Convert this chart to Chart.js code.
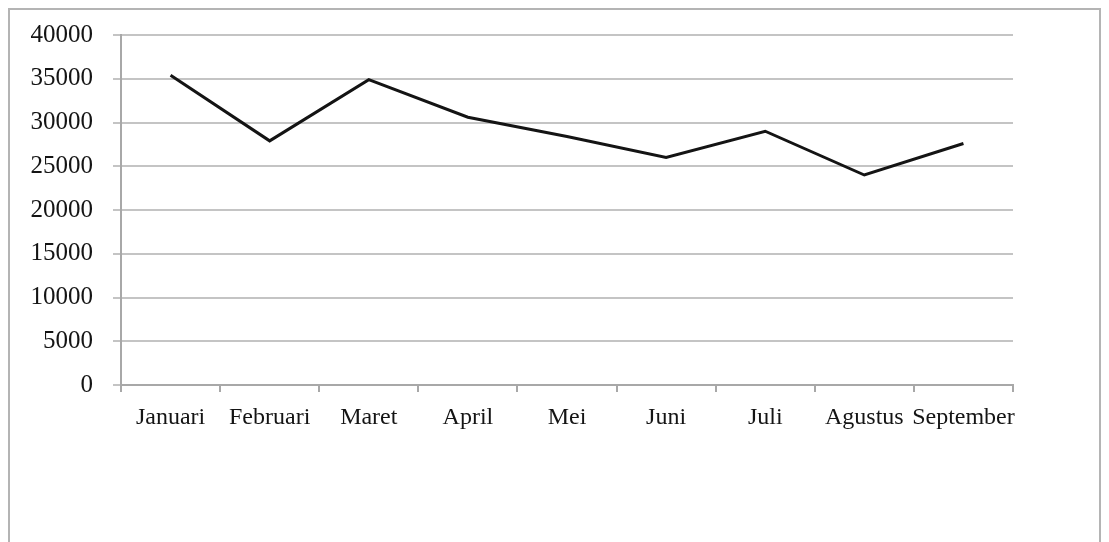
<!DOCTYPE html>
<html lang="id">
<head>
    <meta charset="UTF-8">
    <title>Grafik</title>
    <script src="https://cdn.jsdelivr.net/npm/chart.js"></script>
    <style>
        body {
            margin: 0;
            background: #fff;
            width: 1109px;
            height: 542px;
            overflow: hidden;
        }
        .frame {
            position: absolute;
            left: 8px;
            top: 8px;
            width: 1093px;
            height: 560px;
            border: 2px solid #b4b4b4;
            box-sizing: border-box;
        }
        .chart-box {
            position: absolute;
            left: 0;
            top: 0;
            width: 1109px;
            height: 542px;
        }
    </style>
</head>
<body>
    <div class="frame"></div>
    <div class="chart-box">
        <canvas id="chart"></canvas>
    </div>

    <script>
        // data
        const bulan = ['Januari', 'Februari', 'Maret', 'April', 'Mei', 'Juni', 'Juli', 'Agustus', 'September'];
        const nilai = [35400, 27900, 34900, 30600, 28400, 26000, 29000, 24000, 27600];
        const yMin = 0;
        const yMax = 40000;
        const yStep = 5000;

        const fontSerif = '"Liberation Serif", "Times New Roman", serif';

        const ctx = document.getElementById('chart').getContext('2d');
        new Chart(ctx, {
            type: 'line',
            data: {
                labels: bulan,
                datasets: [{
                    data: nilai,
                    borderColor: '#141414',
                    borderWidth: 3,
                    pointRadius: 0,
                    tension: 0,
                    fill: false
                }]
            },
            options: {
                responsive: true,
                maintainAspectRatio: false,
                animation: false,
                layout: { padding: { top: 34, right: 96, left: 0, bottom: 0 } },
                plugins: {
                    legend: { display: false },
                    tooltip: { enabled: false }
                },
                scales: {
                    x: {
                        offset: true,
                        grid: {
                            offset: true,
                            drawOnChartArea: false,
                            drawTicks: true,
                            tickLength: 7,
                            color: '#a8a8a8',
                            lineWidth: 2
                        },
                        border: { color: '#a8a8a8', width: 2 },
                        ticks: {
                            color: '#141414',
                            padding: 11,
                            maxRotation: 0,
                            autoSkip: false,
                            font: { family: fontSerif, size: 24 }
                        },
                        afterFit: (scale) => { scale.height = 542 - 385; }
                    },
                    y: {
                        min: yMin,
                        max: yMax,
                        grid: {
                            color: '#c4c4c4',
                            lineWidth: 2,
                            tickLength: 8
                        },
                        border: { color: '#a8a8a8', width: 2 },
                        ticks: {
                            stepSize: yStep,
                            color: '#141414',
                            padding: 20,
                            font: { family: fontSerif, size: 25 },
                            callback: (v) => String(v)
                        },
                        afterFit: (scale) => { scale.width = 121; }
                    }
                }
            }
        });
    </script>
</body>
</html>
